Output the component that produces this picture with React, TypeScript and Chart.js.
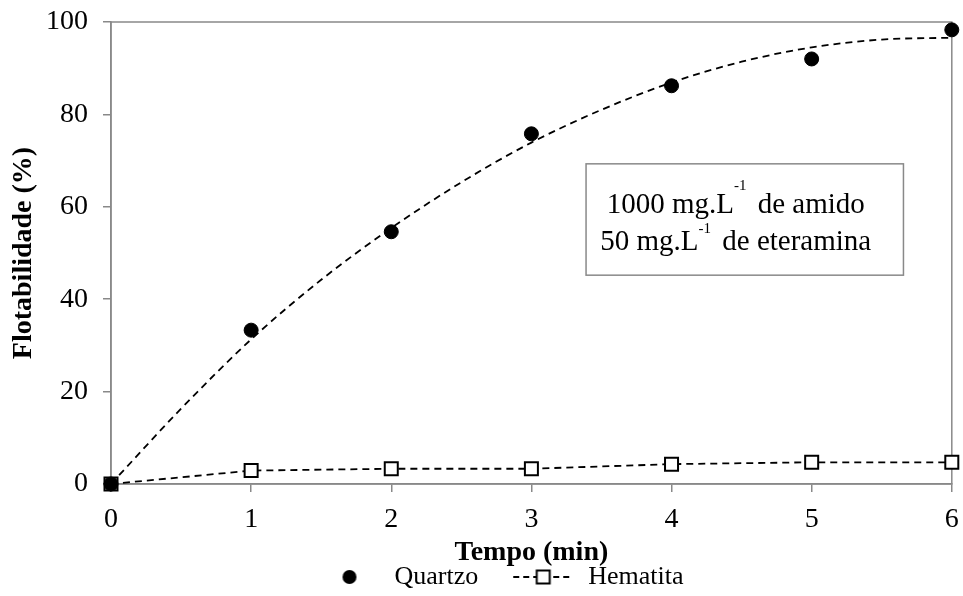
import React, { useEffect, useRef } from "react";
import { Chart, registerables } from "chart.js";

Chart.register(...registerables);

// ---- data ----
const tempo = [0, 1, 2, 3, 4, 5, 6];
const quartzo = [0, 33.3, 54.6, 75.8, 86.2, 92.0, 98.3];
const hematita = [0, 2.9, 3.3, 3.3, 4.3, 4.7, 4.7];
// dashed trend curve of Quartzo, every half minute
const trendTempo = [0, 0.5, 1, 1.5, 2, 2.5, 3, 3.5, 4, 4.5, 5, 5.5, 6];
const quartzoTrend = [0, 16.3, 31.3, 44.2, 55.4, 65.3, 73.9, 81.0, 86.9, 91.4, 94.5, 96.2, 96.6];
const xTicks = [0, 1, 2, 3, 4, 5, 6];
const yTicks = [0, 20, 40, 60, 80, 100];
const seriesNames = ["Quartzo", "Hematita", "Tendência Quartzo"];
const axisTitles = { x: "Tempo (min)", y: "Flotabilidade (%)" };
const noteLines = [
  ["1000 mg.L", "-1", " de amido"],
  ["50 mg.L", "-1", " de eteramina"],
];
// note box in data coordinates
const noteBox = { x0: 3.39, x1: 5.655, y0: 45.2, y1: 69.3 };

const FONT = "'Liberation Serif', 'Times New Roman', serif";
const GRAY = "#898989";
const LEGEND_SHIFT = 8;
const DASH = [7, 5];

function makeQuartzoIcon() {
  const c = document.createElement("canvas");
  c.width = 96;
  c.height = 20;
  const ctx = c.getContext("2d")!;
  ctx.fillStyle = "#000";
  ctx.beginPath();
  ctx.arc(64, 10, 7, 0, Math.PI * 2);
  ctx.fill();
  return c;
}

function makeHematitaIcon() {
  const c = document.createElement("canvas");
  c.width = 96;
  c.height = 20;
  const ctx = c.getContext("2d")!;
  ctx.strokeStyle = "#000";
  ctx.lineWidth = 1.8;
  ctx.setLineDash([6, 4]);
  ctx.beginPath();
  ctx.moveTo(34, 10);
  ctx.lineTo(94, 10);
  ctx.stroke();
  ctx.setLineDash([]);
  ctx.fillStyle = "#fff";
  ctx.lineWidth = 2;
  ctx.fillRect(57.5, 3.5, 13, 13);
  ctx.strokeRect(57.5, 3.5, 13, 13);
  return c;
}

const framePlugin = {
  id: "frameAndNote",
  afterLayout(chart: any) {
    const lg = chart.legend;
    if (lg) {
      lg.left += LEGEND_SHIFT;
      lg.right += LEGEND_SHIFT;
    }
  },
  beforeDatasetsDraw(chart: any) {
    const { ctx, chartArea } = chart;
    const { left, top, right, bottom } = chartArea;
    ctx.save();
    ctx.strokeStyle = GRAY;
    ctx.lineWidth = 1.5;
    ctx.strokeRect(left, top, right - left, bottom - top);
    // note box
    const xs = chart.scales.x;
    const ys = chart.scales.y;
    const bx0 = xs.getPixelForValue(noteBox.x0);
    const bx1 = xs.getPixelForValue(noteBox.x1);
    const by0 = ys.getPixelForValue(noteBox.y1);
    const by1 = ys.getPixelForValue(noteBox.y0);
    ctx.fillStyle = "#fff";
    ctx.fillRect(bx0, by0, bx1 - bx0, by1 - by0);
    ctx.strokeStyle = GRAY;
    ctx.lineWidth = 1.5;
    ctx.strokeRect(bx0, by0, bx1 - bx0, by1 - by0);
    const cx = (bx0 + bx1) / 2 - 9;
    const mainFont = `29px ${FONT}`;
    const supFont = `15px ${FONT}`;
    const baselines = [by0 + 49, by0 + 86];
    const supRise = [23, 17];
    ctx.fillStyle = "#000";
    ctx.textBaseline = "alphabetic";
    ctx.textAlign = "left";
    noteLines.forEach((parts, i) => {
      ctx.font = mainFont;
      const w0 = ctx.measureText(parts[0]).width;
      const w2 = ctx.measureText(parts[2]).width;
      ctx.font = supFont;
      const w1 = ctx.measureText(parts[1]).width;
      const gap = 4;
      const total = w0 + w1 + gap + w2;
      let x = cx - total / 2;
      const yb = baselines[i];
      ctx.font = mainFont;
      ctx.fillText(parts[0], x, yb);
      x += w0;
      ctx.font = supFont;
      ctx.fillText(parts[1], x, yb - supRise[i]);
      x += w1 + gap;
      ctx.font = mainFont;
      ctx.fillText(parts[2], x, yb);
    });
    ctx.restore();
  },
};

export default function App() {
  const ref = useRef<HTMLCanvasElement | null>(null);

  useEffect(() => {
    document.body.style.margin = "0";
    const canvas = ref.current;
    if (!canvas) return;
    const qIcon = makeQuartzoIcon();
    const hIcon = makeHematitaIcon();

    const chart = new Chart(canvas, {
      type: "line",
      data: {
        datasets: [
          {
            label: seriesNames[0],
            data: tempo.map((t, i) => ({ x: t, y: quartzo[i] })),
            showLine: false,
            clip: false,
            pointStyle: "circle",
            pointRadius: 7,
            pointHoverRadius: 7,
            pointBackgroundColor: "#000",
            pointBorderColor: "#000",
            borderColor: "#000",
            backgroundColor: "#000",
          },
          {
            label: seriesNames[1],
            data: tempo.map((t, i) => ({ x: t, y: hematita[i] })),
            clip: false,
            borderColor: "#000",
            borderWidth: 1.8,
            borderDash: DASH,
            tension: 0,
            pointStyle: "rect",
            pointRadius: 9.2,
            pointHoverRadius: 9.2,
            pointBorderWidth: 2,
            pointBackgroundColor: "#fff",
            pointBorderColor: "#000",
            backgroundColor: "#fff",
          },
          {
            label: seriesNames[2],
            data: trendTempo.map((t, i) => ({ x: t, y: quartzoTrend[i] })),
            borderColor: "#000",
            borderWidth: 1.8,
            borderDash: DASH,
            cubicInterpolationMode: "monotone",
            pointRadius: 0,
            pointHoverRadius: 0,
          },
        ],
      },
      options: {
        animation: false,
        responsive: false,
        layout: { padding: { top: 22, right: 10, left: 0, bottom: 0 } },
        scales: {
          x: {
            type: "linear",
            min: 0,
            max: 6,
            afterBuildTicks: (s: any) => {
              s.ticks = xTicks.map((v) => ({ value: v }));
            },
            afterFit: (s: any) => {
              s.height = 79;
              s.paddingLeft = 0;
              s.paddingRight = 0;
            },
            grid: {
              display: true,
              drawOnChartArea: false,
              drawTicks: true,
              tickLength: 8,
              color: GRAY,
              lineWidth: 1.5,
            },
            border: { display: true, color: GRAY, width: 1.5 },
            ticks: {
              color: "#000",
              font: { family: FONT, size: 28 },
              padding: 11,
              maxRotation: 0,
            },
            title: {
              display: true,
              text: axisTitles.x,
              color: "#000",
              font: { family: FONT, size: 28, weight: "bold" },
              padding: { top: 0, bottom: -7 },
            },
          },
          y: {
            type: "linear",
            min: 0,
            max: 100,
            afterBuildTicks: (s: any) => {
              s.ticks = yTicks.map((v) => ({ value: v }));
            },
            afterFit: (s: any) => {
              s.width = 111;
              s.paddingTop = 0;
              s.paddingBottom = 0;
            },
            grid: {
              display: true,
              drawOnChartArea: false,
              drawTicks: true,
              tickLength: 8,
              color: GRAY,
              lineWidth: 1.5,
            },
            border: { display: true, color: GRAY, width: 1.5 },
            ticks: {
              color: "#000",
              font: { family: FONT, size: 28 },
              padding: 15,
            },
            title: {
              display: true,
              text: axisTitles.y,
              color: "#000",
              font: { family: FONT, size: 28, weight: "bold" },
              padding: { top: 7, bottom: 0 },
            },
          },
        },
        plugins: {
          tooltip: { enabled: false },
          legend: {
            display: true,
            position: "bottom",
            align: "center",
            maxHeight: 33,
            labels: {
              color: "#000",
              font: { family: FONT, size: 26 },
              usePointStyle: true,
              pointStyleWidth: 96,
              boxHeight: 16,
              padding: 1,
              generateLabels: (ch: any) => {
                const base = Chart.defaults.plugins.legend.labels.generateLabels(ch);
                return base
                  .filter((l: any) => l.datasetIndex !== 2)
                  .map((l: any) => ({
                    ...l,
                    pointStyle: l.datasetIndex === 0 ? qIcon : hIcon,
                    fontColor: "#000",
                  }));
              },
            },
          },
        },
      },
      plugins: [framePlugin],
    } as any);

    return () => chart.destroy();
  }, []);

  return (
    <div style={{ width: 963, height: 596 }}>
      <canvas ref={ref} width={963} height={596} style={{ width: 963, height: 596, display: "block" }} />
    </div>
  );
}
